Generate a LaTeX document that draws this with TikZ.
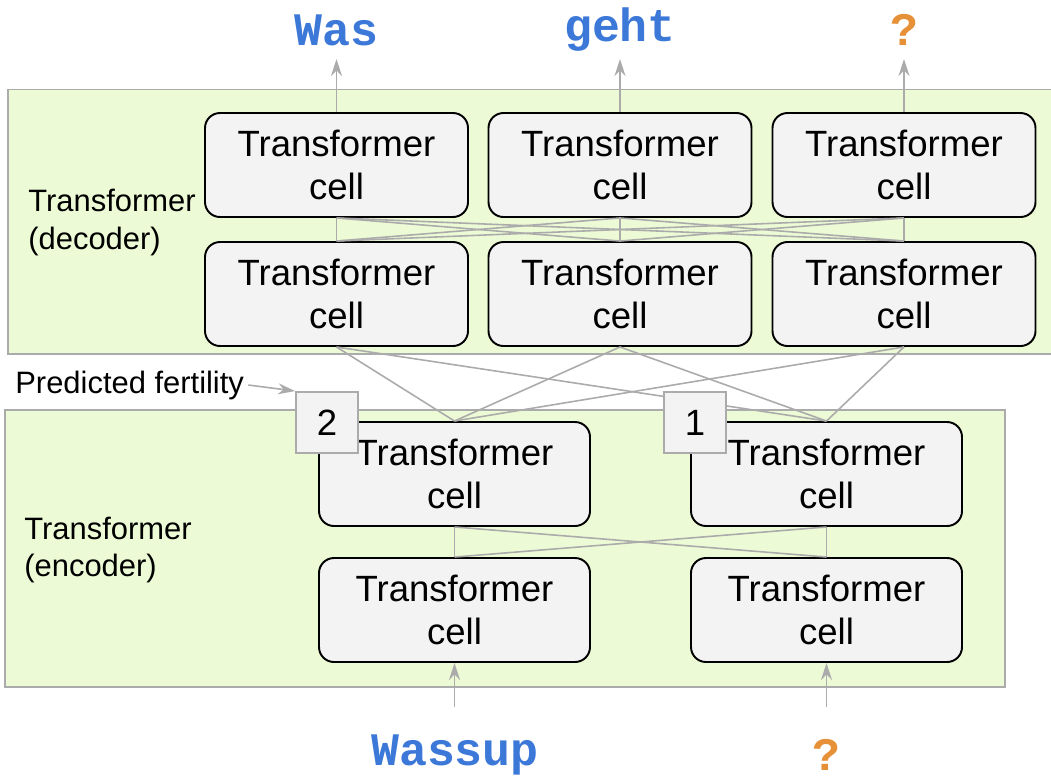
\documentclass[tikz,border=0pt]{standalone}
\usepackage{fontspec}
\setmainfont{Liberation Sans}
\newfontfamily\wordfont{Liberation Mono}
\usepackage{tikz}
\usetikzlibrary{arrows.meta}

\definecolor{panelgreen}{HTML}{ECFBD5}
\definecolor{panelline}{HTML}{ABABAB}
\definecolor{cellfill}{HTML}{F3F3F3}
\definecolor{wordblue}{HTML}{3C78D8}
\definecolor{wordorange}{HTML}{E69138}

\tikzset{
  panel/.style={draw=panelline, fill=panelgreen, line width=1.1pt},
  cell/.style={draw=black, fill=cellfill, rounded corners=0.3cm, line width=1.1pt,
    minimum height=2.08cm, align=center, inner sep=0pt,
    font=\fontsize{20.8}{24.4}\selectfont},
  deccell/.style={cell, minimum width=5.26cm},
  enccell/.style={cell, minimum width=5.42cm},
  fert/.style={draw=panelline, fill=cellfill, line width=1.1pt,
    minimum width=1.24cm, minimum height=1.22cm, inner sep=0pt,
    font=\fontsize{20.8}{24.4}\selectfont},
  side/.style={align=left, anchor=west, inner sep=0pt,
    font=\fontsize{17.6}{21.5}\selectfont},
  word/.style={inner sep=0pt, font=\wordfont\bfseries\fontsize{26.5}{30}\selectfont},
  wire/.style={draw=panelline, line width=0.9pt},
  flow/.style={wire, -{Stealth[length=0.34cm, width=0.22cm]}},
}

\begin{document}
\begin{tikzpicture}
  \useasboundingbox (0,0) rectangle (21.02,-15.58);

  % the two stacks
  \draw[panel] (0.16,-1.79) rectangle (21.3,-7.08);
  \draw[panel] (0.1,-8.2) rectangle (20.1,-13.74);

  \draw (0.56,-4.45) node[side] (declabel) {Transformer\\(decoder)};
  \draw (0.48,-11.0) node[side] (enclabel) {Transformer\\(encoder)};

  % decoder cells
  \draw (6.73,-3.3) node[deccell] (d1) {Transformer\\cell};
  \draw (12.4,-3.3) node[deccell] (d2) {Transformer\\cell};
  \draw (18.08,-3.3) node[deccell] (d3) {Transformer\\cell};
  \draw (6.73,-5.88) node[deccell] (c1) {Transformer\\cell};
  \draw (12.4,-5.88) node[deccell] (c2) {Transformer\\cell};
  \draw (18.08,-5.88) node[deccell] (c3) {Transformer\\cell};

  % encoder cells
  \draw (9.09,-9.48) node[enccell] (e1) {Transformer\\cell};
  \draw (16.53,-9.48) node[enccell] (e2) {Transformer\\cell};
  \draw (9.09,-12.2) node[enccell] (b1) {Transformer\\cell};
  \draw (16.53,-12.2) node[enccell] (b2) {Transformer\\cell};

  % all-to-all wiring
  \foreach \i in {1,2,3}
    \foreach \j in {1,2,3}
      \path[wire] (c\i.north) -- (d\j.south);
  \foreach \i in {1,2}
    \foreach \j in {1,2,3}
      \path[wire] (e\i.north) -- (c\j.south);
  \foreach \i in {1,2}
    \foreach \j in {1,2}
      \path[wire] (b\i.north) -- (e\j.south);

  % fertilities
  \draw (6.54,-8.45) node[fert] (f1) {2};
  \draw (13.9,-8.45) node[fert] (f2) {1};
  \draw (0.3,-7.7) node[side] (fertlabel) {Predicted fertility};
  \path[flow] (fertlabel.east) ++(0.08,0) -- (f1.north west);

  % output words
  \draw (6.73,-0.6) node[word, text=wordblue] (was) {Was};
  \draw (12.4,-0.6) node[word, text=wordblue] (geht) {geht};
  \draw (18.08,-0.6) node[word, text=wordorange] (qout) {?};
  \coordinate (t1) at (6.73,-1.18);
  \coordinate (t2) at (12.4,-1.18);
  \coordinate (t3) at (18.08,-1.18);
  \path[flow] (d1.north) -- (t1);
  \path[flow] (d2.north) -- (t2);
  \path[flow] (d3.north) -- (t3);

  % input words
  \draw (9.1,-15.1) node[word, text=wordblue] (wassup) {Wassup};
  \draw (16.52,-15.1) node[word, text=wordorange] (qin) {?};
  \coordinate (s1) at (9.09,-14.14);
  \coordinate (s2) at (16.53,-14.14);
  \path[flow] (s1) -- (b1.south);
  \path[flow] (s2) -- (b2.south);
\end{tikzpicture}
\end{document}
